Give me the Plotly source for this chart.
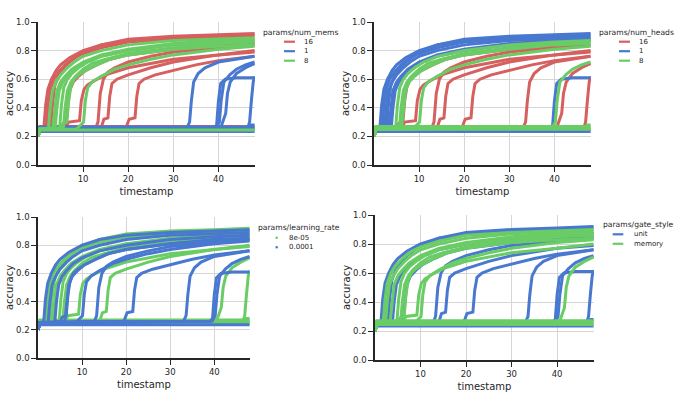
import plotly.graph_objects as go
from plotly.subplots import make_subplots

# each training run: timestamps and accuracy
t_a1 = [0, 0.4, 1.3, 1.7, 2.2, 3, 4, 5, 7, 10, 14, 20, 30, 40, 48]
acc_a1 = [0.2, 0.25, 0.26, 0.42, 0.53, 0.60, 0.66, 0.70, 0.75, 0.80, 0.84, 0.87, 0.89, 0.90, 0.91]
t_a2 = [0, 0.4, 1.8, 2.2, 2.7, 3.5, 4.5, 6, 8, 10, 14, 20, 30, 40, 48]
acc_a2 = [0.2, 0.25, 0.25, 0.42, 0.53, 0.60, 0.65, 0.70, 0.75, 0.78, 0.82, 0.86, 0.88, 0.89, 0.90]
t_a3 = [0, 0.4, 2.3, 2.7, 3.2, 4, 5, 6.5, 8, 10, 14, 20, 30, 40, 48]
acc_a3 = [0.2, 0.25, 0.25, 0.40, 0.52, 0.58, 0.63, 0.68, 0.72, 0.76, 0.80, 0.84, 0.87, 0.88, 0.89]
t_a4 = [0, 0.4, 2.8, 3.2, 3.7, 4.5, 5.5, 7, 10, 14, 20, 30, 40, 48]
acc_a4 = [0.2, 0.25, 0.25, 0.42, 0.55, 0.62, 0.67, 0.72, 0.79, 0.84, 0.88, 0.90, 0.91, 0.92]
t_a5 = [0, 0.4, 3.3, 3.7, 4.2, 5, 6, 7.5, 10, 14, 20, 30, 40, 48]
acc_a5 = [0.2, 0.25, 0.26, 0.40, 0.52, 0.58, 0.62, 0.67, 0.72, 0.77, 0.81, 0.85, 0.87, 0.88]
t_a6 = [0, 0.4, 3.8, 4.2, 4.7, 5.5, 6.5, 8, 10, 14, 20, 30, 40, 48]
acc_a6 = [0.2, 0.25, 0.25, 0.40, 0.52, 0.58, 0.62, 0.67, 0.71, 0.76, 0.80, 0.84, 0.86, 0.87]
t_b1 = [0, 0.4, 4.8, 5.2, 5.7, 6.5, 7.5, 9, 11, 14, 20, 30, 40, 48]
acc_b1 = [0.2, 0.25, 0.26, 0.42, 0.54, 0.60, 0.64, 0.68, 0.72, 0.76, 0.80, 0.84, 0.86, 0.87]
t_b2 = [0, 0.4, 5.6, 6.0, 6.5, 7.3, 8.3, 10, 12, 15, 20, 30, 40, 48]
acc_b2 = [0.2, 0.25, 0.25, 0.40, 0.52, 0.58, 0.62, 0.67, 0.71, 0.74, 0.78, 0.82, 0.85, 0.86]
t_b3 = [0, 0.4, 6.1, 6.5, 7.0, 7.8, 9, 10.5, 13, 16, 20, 30, 40, 48]
acc_b3 = [0.2, 0.25, 0.26, 0.40, 0.52, 0.58, 0.62, 0.66, 0.70, 0.74, 0.77, 0.81, 0.84, 0.85]
t_c1 = [0, 0.4, 5.0, 5.5, 6.4, 6.8, 7.3, 8, 9, 10.5, 13, 16, 20, 30, 40, 48]
acc_c1 = [0.2, 0.25, 0.25, 0.29, 0.30, 0.45, 0.55, 0.60, 0.63, 0.66, 0.70, 0.74, 0.77, 0.81, 0.83, 0.84]
t_c2 = [0, 0.4, 6.0, 6.8, 9.2, 9.6, 10.2, 11, 12.5, 15, 20, 25, 30, 40, 48]
acc_c2 = [0.2, 0.25, 0.25, 0.30, 0.31, 0.45, 0.53, 0.56, 0.59, 0.63, 0.68, 0.71, 0.74, 0.77, 0.80]
t_b4 = [0, 0.4, 8.5, 9.5, 10.1, 10.5, 11, 12, 14, 17, 20, 25, 30, 40, 48]
acc_b4 = [0.2, 0.25, 0.25, 0.28, 0.30, 0.45, 0.54, 0.58, 0.62, 0.67, 0.70, 0.74, 0.77, 0.81, 0.83]
t_c3 = [0, 0.4, 12.8, 13.3, 13.8, 14.5, 15.5, 17, 20, 25, 30, 40, 48]
acc_c3 = [0.2, 0.25, 0.26, 0.30, 0.50, 0.60, 0.65, 0.68, 0.72, 0.76, 0.79, 0.82, 0.84]
t_c4 = [0, 0.4, 14.0, 14.6, 15.5, 15.9, 16.4, 17.5, 20, 25, 30, 40, 48]
acc_c4 = [0.2, 0.25, 0.26, 0.32, 0.33, 0.48, 0.57, 0.60, 0.63, 0.68, 0.72, 0.77, 0.79]
t_c5 = [0, 0.4, 19.5, 20.2, 21.5, 21.9, 22.4, 23.5, 26, 30, 35, 40, 48]
acc_c5 = [0.2, 0.25, 0.26, 0.32, 0.33, 0.48, 0.57, 0.60, 0.63, 0.66, 0.70, 0.73, 0.76]
t_d1 = [0, 0.4, 33.0, 33.6, 34.0, 34.5, 35.5, 37, 40, 44, 48]
acc_d1 = [0.2, 0.25, 0.26, 0.30, 0.45, 0.58, 0.64, 0.68, 0.72, 0.74, 0.76]
t_d2 = [0, 0.4, 39.0, 39.6, 40.0, 40.5, 41.5, 44, 48]
acc_d2 = [0.2, 0.25, 0.26, 0.28, 0.45, 0.57, 0.60, 0.61, 0.61]
t_d3 = [0, 0.4, 39.5, 40.2, 40.6, 41.2, 42.5, 44, 46, 48]
acc_d3 = [0.2, 0.25, 0.26, 0.30, 0.45, 0.58, 0.63, 0.67, 0.70, 0.72]
t_d4 = [0, 0.4, 40.5, 41.2, 41.6, 42.0, 42.6, 44, 46, 48]
acc_d4 = [0.2, 0.25, 0.26, 0.33, 0.36, 0.50, 0.58, 0.64, 0.68, 0.71]
t_d5 = [0, 0.4, 46.5, 46.9, 47.3, 47.7, 48]
acc_d5 = [0.2, 0.25, 0.26, 0.30, 0.45, 0.58, 0.62]
t_f1 = [0, 0.4, 48]
acc_f1 = [0.2, 0.25, 0.25]
t_f2 = [0, 0.4, 48]
acc_f2 = [0.2, 0.26, 0.26]
t_f3 = [0, 0.4, 48]
acc_f3 = [0.2, 0.235, 0.235]
t_f4 = [0, 0.4, 48]
acc_f4 = [0.2, 0.27, 0.27]
t_f5 = [0, 0.4, 48]
acc_f5 = [0.2, 0.245, 0.245]
t_f6 = [0, 0.4, 46.8, 47.3, 48]
acc_f6 = [0.2, 0.265, 0.265, 0.28, 0.28]

runs = [(t_a1, acc_a1), (t_a2, acc_a2), (t_a3, acc_a3), (t_a4, acc_a4), (t_a5, acc_a5),
        (t_a6, acc_a6), (t_b1, acc_b1), (t_b2, acc_b2), (t_b3, acc_b3), (t_c1, acc_c1),
        (t_c2, acc_c2), (t_b4, acc_b4), (t_c3, acc_c3), (t_c4, acc_c4), (t_c5, acc_c5),
        (t_d1, acc_d1), (t_d2, acc_d2), (t_d3, acc_d3), (t_d4, acc_d4), (t_d5, acc_d5),
        (t_f1, acc_f1), (t_f2, acc_f2), (t_f3, acc_f3), (t_f4, acc_f4), (t_f5, acc_f5),
        (t_f6, acc_f6)]

# hyper-parameters of each run (same order as runs)
num_mems = ["16", "16", "8", "16", "8", "8", "8", "8", "16", "8", "16", "8", "16",
            "16", "16", "1", "1", "1", "1", "1", "1", "1", "1", "16", "8", "1"]
num_heads = ["1", "1", "1", "1", "1", "1", "8", "8", "8", "16", "16", "8", "16",
             "16", "16", "16", "1", "8", "16", "16", "8", "8", "1", "8", "16", "8"]
learning_rate = ["0.0001", "8e-05", "0.0001", "8e-05", "8e-05", "0.0001", "8e-05", "8e-05",
                 "0.0001", "0.0001", "8e-05", "0.0001", "0.0001", "8e-05", "0.0001",
                 "0.0001", "0.0001", "0.0001", "8e-05", "8e-05", "8e-05", "8e-05",
                 "0.0001", "8e-05", "8e-05", "8e-05"]
gate_style = ["unit", "memory", "memory", "unit", "memory", "unit", "memory", "memory",
              "unit", "memory", "memory", "memory", "unit", "unit", "unit", "unit", "unit",
              "unit", "memory", "unit", "memory", "memory", "unit", "memory", "memory", "unit"]

RED = "#d65f5f"
BLUE = "#4878d0"
GREEN = "#6acc64"

panels = [
    ("params/num_mems", num_mems, ["16", "1", "8"], [RED, BLUE, GREEN], "line"),
    ("params/num_heads", num_heads, ["16", "1", "8"], [RED, BLUE, GREEN], "line"),
    ("params/learning_rate", learning_rate, ["8e-05", "0.0001"], [GREEN, BLUE], "dot"),
    ("params/gate_style", gate_style, ["unit", "memory"], [BLUE, GREEN], "line"),
]

W, H = 676, 393


def fx(p):
    return p / W


def fy(p):
    return 1 - p / H


# plot areas in pixels: left, right, top, bottom
boxes = [(38, 255, 22, 165), (374, 591, 22, 165), (38, 250, 217, 358), (375, 594, 215, 360)]
# legend anchors in pixels: title x, title y, key x0, key x1, text x, first row y
legend_pos = [(261, 32, 284, 295, 302, 41.7), (597, 32, 619, 630, 637, 41.7),
              (256, 227.7, 276.7, 276.7, 286.7, 237.7), (600.7, 224.3, 612.7, 623.3, 631.7, 234.3)]
ROW = 9.5

fig = make_subplots(rows=2, cols=2)

for i, (title, values, levels, colors, key) in enumerate(panels):
    row, col = i // 2 + 1, i % 2 + 1
    for level, color in zip(levels, colors):
        for (t, acc), v in zip(runs, values):
            if v != level:
                continue
            fig.add_trace(go.Scatter(x=t, y=acc, mode="lines",
                                     line=dict(color=color, width=3),
                                     showlegend=False, hoverinfo="skip"),
                          row=row, col=col)

    l, r, top, bot = boxes[i]
    ax = "" if i == 0 else str(i + 1)
    fig.layout["xaxis" + ax].domain = [fx(l), fx(r)]
    fig.layout["yaxis" + ax].domain = [fy(bot), fy(top)]

    # legend drawn by hand so rows sit close like the original
    tx, ty, kx0, kx1, txt_x, ry = legend_pos[i]
    fig.add_annotation(x=fx(tx), y=fy(ty), xref="paper", yref="paper",
                       text=title, showarrow=False, xanchor="left", yanchor="middle",
                       font=dict(size=7.6, color="#262626"))
    for j, (level, color) in enumerate(zip(levels, colors)):
        yy = ry + j * ROW
        if key == "line":
            fig.add_shape(type="line", xref="paper", yref="paper",
                          x0=fx(kx0), x1=fx(kx1), y0=fy(yy), y1=fy(yy),
                          line=dict(color=color, width=2.2))
        else:
            fig.add_shape(type="circle", xref="paper", yref="paper",
                          x0=fx(kx0 - 1.3), x1=fx(kx0 + 1.3),
                          y0=fy(yy + 1.3), y1=fy(yy - 1.3),
                          fillcolor=color, line=dict(color=color, width=0))
        fig.add_annotation(x=fx(txt_x), y=fy(yy), xref="paper", yref="paper",
                           text=level, showarrow=False, xanchor="left", yanchor="middle",
                           font=dict(size=7, color="#262626"))

fig.update_xaxes(range=[0, 48.1], tickvals=[10, 20, 30, 40], automargin=False,
                 showline=True, linecolor="#262626", linewidth=1.5,
                 ticks="outside", ticklen=5, tickwidth=1.2, tickcolor="#262626",
                 showgrid=True, gridcolor="#d6d6d6", gridwidth=1.2, zeroline=False,
                 tickfont=dict(size=8.5, color="#262626"),
                 title=dict(text="timestamp", font=dict(size=10, color="#262626"), standoff=5))
fig.update_yaxes(range=[0, 1], tickvals=[0, 0.2, 0.4, 0.6, 0.8, 1.0], tickformat=".1f",
                 automargin=False,
                 showline=True, linecolor="#262626", linewidth=1.5,
                 ticks="outside", ticklen=5, tickwidth=1.2, tickcolor="#262626",
                 showgrid=True, gridcolor="#d6d6d6", gridwidth=1.2, zeroline=False,
                 tickfont=dict(size=8.5, color="#262626"),
                 title=dict(text="accuracy", font=dict(size=10, color="#262626"), standoff=1))

fig.update_layout(width=W, height=H, margin=dict(l=0, r=0, t=0, b=0, autoexpand=False),
                  paper_bgcolor="white", plot_bgcolor="white",
                  font=dict(family="DejaVu Sans"), showlegend=False)

# drop the page's default body margin so the figure fills the window exactly
fig.write_html("out.html", config={"displayModeBar": False},
               post_script="document.body.style.margin='0';document.body.style.overflow='hidden';")
